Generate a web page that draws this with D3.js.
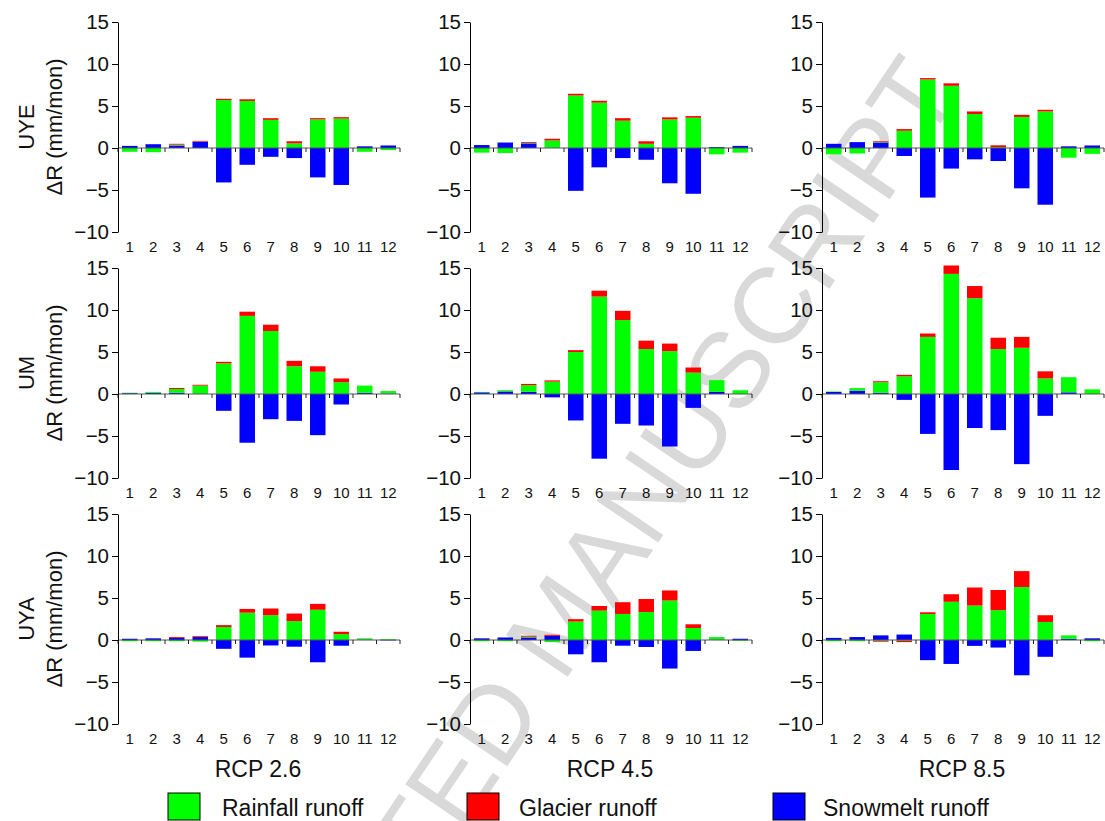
<!DOCTYPE html>
<html>
<head>
<meta charset="utf-8">
<script src="https://cdn.jsdelivr.net/npm/d3@7"></script>
<style>
body { margin: 0; background: #fff; }
svg { display: block; font-family: "Liberation Sans", Arial, sans-serif; }
</style>
</head>
<body>
<svg id="chart" width="1105" height="821"></svg>
<script>
const months = d3.range(1, 13);
const regions = ["UYE", "UM", "UYA"];
const scenarios = ["RCP 2.6", "RCP 4.5", "RCP 8.5"];
const yTicks = [-10, -5, 0, 5, 10, 15];
const seriesNames = ["Rainfall runoff", "Glacier runoff", "Snowmelt runoff"];
const seriesColors = ["#00ff00", "#ff0000", "#0000ff"];

// UYE
const rainUYE26    = [-0.45, -0.5, 0.1, 0.02, 5.7, 5.6, 3.35, 0.55, 3.4, 3.5, -0.45, -0.25];
const glacierUYE26 = [0, 0, 0.1, 0.08, 0.15, 0.2, 0.2, 0.25, 0.15, 0.17, 0, 0];
const snowUYE26    = [0.25, 0.45, 0.3, 0.75, -4.1, -2.0, -1.05, -1.2, -3.5, -4.4, 0.2, 0.3];
const rainUYE45    = [-0.55, -0.6, 0.05, 0.85, 6.25, 5.4, 3.25, 0.5, 3.4, 3.6, -0.75, -0.55];
const glacierUYE45 = [0, 0, 0.1, 0.2, 0.2, 0.22, 0.3, 0.3, 0.25, 0.2, 0, 0];
const snowUYE45    = [0.35, 0.65, 0.55, 0.05, -5.1, -2.3, -1.2, -1.4, -4.2, -5.45, 0.1, 0.25];
const rainUYE85    = [-0.75, -0.65, 0.05, 2.05, 8.15, 7.4, 4.05, 0.1, 3.7, 4.35, -1.15, -0.7];
const glacierUYE85 = [0, 0, 0.1, 0.2, 0.17, 0.3, 0.3, 0.22, 0.25, 0.2, 0, 0];
const snowUYE85    = [0.5, 0.7, 0.65, -0.95, -5.9, -2.45, -1.35, -1.55, -4.8, -6.75, 0.2, 0.3];
// UM
const rainUM26     = [0.05, 0.1, 0.45, 1.0, 3.65, 9.3, 7.5, 3.3, 2.65, 1.4, 0.85, 0.3];
const glacierUM26  = [0, 0, 0.12, 0.1, 0.18, 0.5, 0.75, 0.65, 0.65, 0.45, 0, 0];
const snowUM26     = [0.1, 0.15, 0.15, 0, -2.0, -5.8, -3.0, -3.2, -4.9, -1.25, 0.15, 0.05];
const rainUM45     = [0.05, 0.15, 0.8, 1.47, 5.0, 11.6, 8.8, 5.35, 5.1, 2.55, 1.4, 0.45];
const glacierUM45  = [0, 0, 0.15, 0.15, 0.22, 0.7, 1.1, 1.0, 0.9, 0.6, 0, 0];
const snowUM45     = [0.2, 0.3, 0.25, -0.4, -3.15, -7.7, -3.55, -3.75, -6.25, -1.65, 0.25, 0];
const rainUM85     = [0.05, 0.3, 1.25, 2.1, 6.8, 14.3, 11.4, 5.35, 5.5, 1.85, 1.8, 0.55];
const glacierUM85  = [0, 0, 0.12, 0.18, 0.4, 1.0, 1.45, 1.35, 1.3, 0.85, 0, 0];
const snowUM85     = [0.25, 0.4, 0.15, -0.7, -4.75, -9.05, -4.05, -4.3, -8.35, -2.6, 0.2, 0];
// UYA
const rainUYA26    = [-0.15, -0.15, -0.15, -0.2, 1.55, 3.25, 2.95, 2.25, 3.6, 0.7, 0.15, 0.1];
const glacierUYA26 = [0, 0, 0.1, 0.1, 0.22, 0.45, 0.8, 0.9, 0.7, 0.28, 0, 0];
const snowUYA26    = [0.15, 0.2, 0.25, 0.35, -1.05, -2.1, -0.65, -0.8, -2.65, -0.68, 0.05, -0.05];
const rainUYA45    = [-0.15, -0.15, 0.1, -0.25, 2.2, 3.5, 3.1, 3.33, 4.7, 1.43, 0.3, -0.1];
const glacierUYA45 = [0, 0, 0.1, 0.12, 0.28, 0.55, 1.4, 1.55, 1.2, 0.44, 0, 0];
const snowUYA45    = [0.2, 0.3, 0.3, 0.5, -1.7, -2.65, -0.68, -0.83, -3.4, -1.3, 0.05, 0.15];
const rainUYA85    = [-0.15, -0.15, -0.1, -0.1, 3.1, 4.55, 4.1, 3.55, 6.3, 2.15, 0.4, -0.15];
const glacierUYA85 = [0, 0, -0.1, -0.15, 0.2, 0.9, 2.15, 2.4, 1.9, 0.8, 0, 0];
const snowUYA85    = [0.25, 0.35, 0.55, 0.65, -2.4, -2.85, -0.7, -0.9, -4.2, -2.0, 0.15, 0.2];

const panelData = [
  [[rainUYE26, glacierUYE26, snowUYE26], [rainUYE45, glacierUYE45, snowUYE45], [rainUYE85, glacierUYE85, snowUYE85]],
  [[rainUM26, glacierUM26, snowUM26], [rainUM45, glacierUM45, snowUM45], [rainUM85, glacierUM85, snowUM85]],
  [[rainUYA26, glacierUYA26, snowUYA26], [rainUYA45, glacierUYA45, snowUYA45], [rainUYA85, glacierUYA85, snowUYA85]]
];

const svg = d3.select("#chart");
svg.append("rect").attr("width", 1105).attr("height", 821).attr("fill", "#fff");

// watermark behind the plot
svg.append("text")
  .attr("transform", "translate(962,92) rotate(-56)")
  .attr("text-anchor", "end")
  .attr("font-size", 108)
  .attr("fill", "#d9d9d9")
  .text("ACCEPTED MANUSCRIPT");

const colX = [118, 470, 822];
const rowY = [22, 268, 514];
const plotW = 282, plotH = 210;
const keys = ["snow", "rain", "glacier"];
const keyColor = { rain: seriesColors[0], glacier: seriesColors[1], snow: seriesColors[2] };

const stack = d3.stack().keys(keys).offset(d3.stackOffsetDiverging);

regions.forEach((region, r) => {
  scenarios.forEach((scen, c) => {
    const x0 = colX[c], y0 = rowY[r];
    const g = svg.append("g");
    const [rain, glacier, snow] = panelData[r][c];
    const rows = months.map((m, i) => ({ month: m, rain: rain[i], glacier: glacier[i], snow: snow[i] }));

    const x = d3.scaleBand().domain(months).range([x0, x0 + plotW]).paddingInner(0.34).paddingOuter(0.17);
    const y = d3.scaleLinear().domain([-10, 15]).range([y0 + plotH, y0]);

    const layers = stack(rows);
    g.selectAll("g.layer").data(layers).join("g")
      .attr("class", "layer")
      .attr("fill", d => keyColor[d.key])
      .selectAll("rect").data(d => d).join("rect")
        .attr("x", d => x(d.data.month))
        .attr("width", x.bandwidth())
        .attr("y", d => y(Math.max(d[0], d[1])))
        .attr("height", d => Math.abs(y(d[0]) - y(d[1])));

    // zero line with ticks between months
    const zy = y(0);
    g.append("line")
      .attr("x1", x0).attr("x2", x0 + plotW)
      .attr("y1", zy).attr("y2", zy)
      .attr("stroke", "#555").attr("stroke-width", 1);
    const bounds = [x0].concat(months.map(m => x(m) + x.bandwidth() + (x.step() - x.bandwidth()) / 2));
    g.selectAll("line.zt").data(bounds).join("line")
      .attr("class", "zt")
      .attr("x1", d => d).attr("x2", d => d)
      .attr("y1", zy).attr("y2", zy + 4)
      .attr("stroke", "#222");

    // y axis
    const ya = g.append("g")
      .attr("transform", `translate(${x0},0)`)
      .call(d3.axisLeft(y).tickValues(yTicks).tickSize(6).tickSizeOuter(0).tickPadding(3));
    ya.select(".domain").attr("stroke", "#000");
    ya.selectAll(".tick line").attr("stroke", "#000");
    ya.selectAll("text").attr("font-size", 20.5).attr("fill", "#111")
      .attr("font-family", "'Liberation Sans', Arial, sans-serif");

    // month labels
    const xa = g.append("g")
      .attr("transform", `translate(0,${y0 + plotH})`)
      .call(d3.axisBottom(x).tickSize(0).tickPadding(9));
    xa.select(".domain").remove();
    xa.selectAll("text").attr("font-size", 15).attr("fill", "#111")
      .attr("font-family", "'Liberation Sans', Arial, sans-serif");

    if (c === 0) {
      const cy = y0 + plotH / 2;
      svg.append("text")
        .attr("transform", `translate(34,${cy}) rotate(-90)`)
        .attr("text-anchor", "middle")
        .attr("font-size", 22).attr("fill", "#111")
        .text(region);
      svg.append("text")
        .attr("transform", `translate(62,${cy}) rotate(-90)`)
        .attr("text-anchor", "middle")
        .attr("font-size", 22).attr("fill", "#111")
        .text("ΔR (mm/mon)");
    }
    if (r === regions.length - 1) {
      svg.append("text")
        .attr("x", x0 + plotW / 2 - 1).attr("y", 777)
        .attr("text-anchor", "middle")
        .attr("font-size", 23).attr("fill", "#111")
        .text(scen);
    }
  });
});

// legend
const legX = [168, 467, 773];
const legTextX = [222, 519, 823];
const leg = svg.append("g");
seriesNames.forEach((name, i) => {
  leg.append("rect")
    .attr("x", legX[i]).attr("y", 793)
    .attr("width", 32).attr("height", 27)
    .attr("fill", seriesColors[i]).attr("stroke", "#000").attr("stroke-width", 1);
  leg.append("text")
    .attr("x", legTextX[i]).attr("y", 816)
    .attr("font-size", 23).attr("fill", "#111")
    .text(name);
});
</script>
</body>
</html>
